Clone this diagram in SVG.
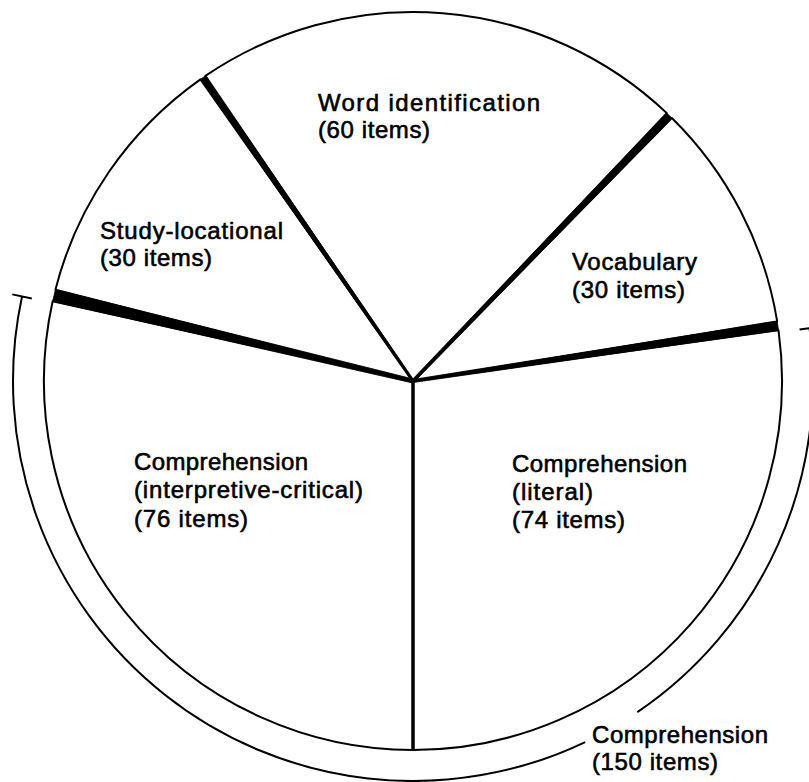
<svg xmlns="http://www.w3.org/2000/svg" width="809" height="782" viewBox="0 0 809 782">
  <style>
    .slice { fill: #fff; stroke: #000; stroke-width: 2; stroke-linejoin: round; }
    .band { fill: #000; stroke: #000; stroke-width: 0.8; }
    .divider { stroke: #000; stroke-width: 3.5; fill: none; }
    .bracket { fill: none; stroke: #000; stroke-width: 2; }
    .lbl { font-family: "Liberation Sans", Arial, sans-serif; font-size: 24px; fill: #000; stroke: #000; stroke-width: 0.6; }
  </style>
  <rect width="809" height="782" fill="#fff"/>

  <!-- pie sectors: centre (413,381), radius 369 -->
  <g id="comprehension-interpretive">
    <path class="slice" d="M413,381 L413,750 A369,369 0 0 1 52.65,301.32 Z"/>
    <text class="lbl" x="134" y="470" textLength="174" lengthAdjust="spacing">Comprehension</text>
    <text class="lbl" x="134" y="498" textLength="229" lengthAdjust="spacing">(interpretive-critical)</text>
    <text class="lbl" x="134" y="527" textLength="114" lengthAdjust="spacing">(76 items)</text>
  </g>
  <g id="study-locational">
    <path class="slice" d="M413,381 L55.43,289.64 A369,369 0 0 1 200.47,79.34 Z"/>
    <text class="lbl" x="100" y="239" textLength="183" lengthAdjust="spacing">Study-locational</text>
    <text class="lbl" x="100" y="266" textLength="112" lengthAdjust="spacing">(30 items)</text>
  </g>
  <g id="word-identification">
    <path class="slice" d="M413,381 L205.41,75.92 A369,369 0 0 1 666.81,113.13 Z"/>
    <text class="lbl" x="318" y="111" textLength="222" lengthAdjust="spacing">Word identification</text>
    <text class="lbl" x="318" y="138" textLength="112" lengthAdjust="spacing">(60 items)</text>
  </g>
  <g id="vocabulary">
    <path class="slice" d="M413,381 L671.85,118 A369,369 0 0 1 777.18,321.37 Z"/>
    <text class="lbl" x="572" y="270" textLength="125" lengthAdjust="spacing">Vocabulary</text>
    <text class="lbl" x="572" y="298" textLength="113" lengthAdjust="spacing">(30 items)</text>
  </g>
  <g id="comprehension-literal">
    <path class="slice" d="M413,381 L778.52,330.27 A369,369 0 0 1 413,750 Z"/>
    <text class="lbl" x="512" y="472" textLength="175" lengthAdjust="spacing">Comprehension</text>
    <text class="lbl" x="512" y="500" textLength="81" lengthAdjust="spacing">(literal)</text>
    <text class="lbl" x="512" y="528" textLength="113" lengthAdjust="spacing">(74 items)</text>
  </g>

  <!-- sector boundaries: tapered black bands and the plain bottom divider -->
  <g id="connectors">
    <polygon class="band" points="412.54,382.95 52.65,301.32 55.43,289.64 413.46,379.05"/>
    <polygon class="band" points="412.01,381.68 200.47,79.34 205.41,75.92 413.99,380.32"/>
    <polygon class="band" points="411.92,379.96 666.81,113.13 671.85,118 414.08,382.04"/>
    <polygon class="band" points="412.78,379.52 777.18,321.37 778.52,330.27 413.22,382.48"/>
    <line class="divider" x1="413" y1="379" x2="413" y2="750"/>
  </g>

  <!-- bracket around both comprehension sectors, radius 400 -->
  <g id="comprehension-total">
    <path class="bracket" d="M585.2,742.04 A400,400 0 0 1 22.03,296.47"/>
    <line class="bracket" x1="31.81" y1="298.59" x2="12.26" y2="294.36"/>
    <path class="bracket" d="M809.49,328.1 A400,400 0 0 1 637.31,712.16"/>
    <line class="bracket" x1="799.58" y1="329.43" x2="819.4" y2="326.78"/>
    <text class="lbl" x="592" y="743" textLength="176" lengthAdjust="spacing">Comprehension</text>
    <text class="lbl" x="592" y="770" textLength="126" lengthAdjust="spacing">(150 items)</text>
  </g>
</svg>
